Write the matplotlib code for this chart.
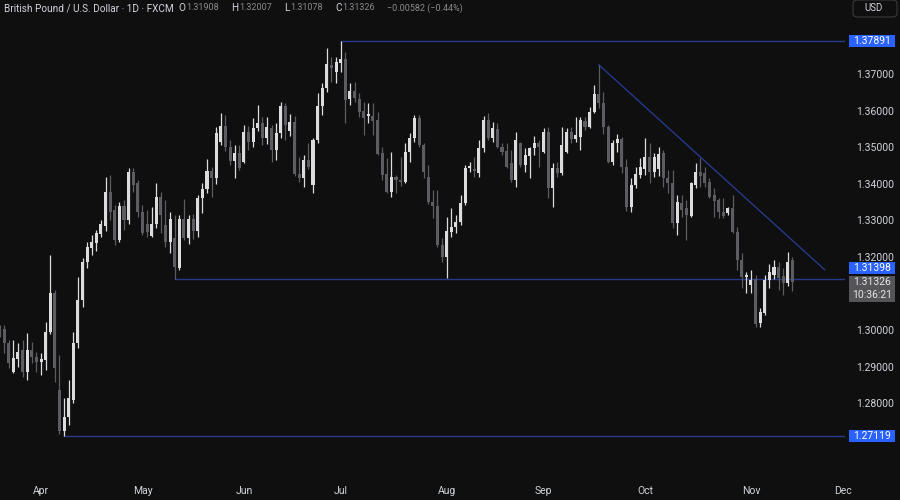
import matplotlib

matplotlib.use("Agg")
import matplotlib.pyplot as plt
from matplotlib.patches import FancyBboxPatch, Rectangle
import pandas as pd

START = "2025-03-19"
END = "2025-11-14"

# one entry per trading day, rows grouped by month
OPENS = [
    1.3002, 1.3003, 1.2965, 1.2886, 1.2921, 1.2946, 1.2886, 1.2946, 1.2927,
    1.2913, 1.2918, 1.2995, 1.3101, 1.2836, 1.2725, 1.2763, 1.2809, 1.2965, 1.3082, 1.3186,
    1.3225, 1.3238, 1.3263, 1.3285, 1.3377, 1.3328, 1.3246, 1.3339, 1.3301, 1.3432, 1.3402,
    1.3323, 1.3290, 1.3257, 1.3290, 1.3364, 1.3287, 1.3241, 1.3252, 1.3170, 1.3304, 1.3252,
    1.3304, 1.3270, 1.3360, 1.3385, 1.3435, 1.3416, 1.3514, 1.3558, 1.3501, 1.3462, 1.3484,
    1.3460, 1.3541, 1.3514, 1.3552, 1.3566, 1.3525, 1.3552, 1.3492, 1.3539, 1.3612, 1.3545,
    1.3570, 1.3427, 1.3416, 1.3465, 1.3397, 1.3520, 1.3613, 1.3662, 1.3725, 1.3705,
    1.3730, 1.3741, 1.3632, 1.3654, 1.3632, 1.3599, 1.3585, 1.3585, 1.3574, 1.3484, 1.3427,
    1.3378, 1.3419, 1.3411, 1.3405, 1.3487, 1.3525, 1.3580, 1.3506, 1.3419, 1.3350, 1.3339,
    1.3233,
    1.3200, 1.3268, 1.3282, 1.3296, 1.3347, 1.3443, 1.3440, 1.3430, 1.3498, 1.3574, 1.3525,
    1.3550, 1.3501, 1.3490, 1.3457, 1.3410, 1.3511, 1.3451, 1.3476, 1.3498, 1.3511,
    1.3487, 1.3541, 1.3389, 1.3443, 1.3430, 1.3487, 1.3541, 1.3522, 1.3527, 1.3571, 1.3555,
    1.3596, 1.3645, 1.3621, 1.3555, 1.3459, 1.3511, 1.3522, 1.3446, 1.3337, 1.3397, 1.3424,
    1.3440, 1.3473, 1.3432, 1.3440, 1.3484, 1.3416, 1.3402, 1.3293, 1.3347, 1.3334, 1.3312,
    1.3397, 1.3432, 1.3429, 1.3405, 1.3369, 1.3356, 1.3323, 1.3320, 1.3334, 1.3268, 1.3192,
    1.3145,
    1.3123, 1.3139, 1.3020, 1.3047, 1.3137, 1.3151, 1.3173, 1.3148, 1.3129, 1.31908,
]
HIGHS = [
    1.3014, 1.3014, 1.2973, 1.2973, 1.2965, 1.2973, 1.2992, 1.2968, 1.2940,
    1.2938, 1.3023, 1.3205, 1.3110, 1.2932, 1.2815, 1.2864, 1.2995, 1.3145, 1.3197, 1.3240,
    1.3260, 1.3274, 1.3300, 1.3419, 1.3424, 1.3342, 1.3350, 1.3356, 1.3443, 1.3443, 1.3410,
    1.3342, 1.3328, 1.3337, 1.3402, 1.3378, 1.3356, 1.3323, 1.3315, 1.3315, 1.3358, 1.3315,
    1.3318, 1.3370, 1.3402, 1.3468, 1.3446, 1.3555, 1.3593, 1.3588, 1.3520, 1.3506, 1.3506,
    1.3561, 1.3558, 1.3580, 1.3615, 1.3582, 1.3582, 1.3561, 1.3566, 1.3623, 1.3621, 1.3590,
    1.3585, 1.3473, 1.3479, 1.3511, 1.3525, 1.3648, 1.3675, 1.3771, 1.3746, 1.3746,
    1.37891, 1.3760, 1.3675, 1.3678, 1.3648, 1.3623, 1.3621, 1.3621, 1.3596, 1.3500, 1.3470,
    1.3487, 1.3424, 1.3473, 1.3511, 1.3539, 1.3588, 1.3588, 1.3511, 1.3451, 1.3383, 1.3383,
    1.3252,
    1.3309, 1.3334, 1.3315, 1.3369, 1.3451, 1.3460, 1.3473, 1.3520, 1.3585, 1.3593, 1.3569,
    1.3566, 1.3511, 1.3511, 1.3492, 1.3541, 1.3514, 1.3498, 1.3501, 1.3531, 1.3520,
    1.3552, 1.3555, 1.3457, 1.3460, 1.3555, 1.3552, 1.3555, 1.3583, 1.3583, 1.3583, 1.3610,
    1.3670, 1.3725, 1.3651, 1.3561, 1.3520, 1.3536, 1.3528, 1.3468, 1.3416, 1.3446, 1.3470,
    1.3525, 1.3511, 1.3484, 1.3500, 1.3492, 1.3438, 1.3438, 1.3369, 1.3369, 1.3356, 1.3405,
    1.3457, 1.3470, 1.3446, 1.3416, 1.3388, 1.3361, 1.3361, 1.3337, 1.3369, 1.3282, 1.3211,
    1.3159,
    1.3164, 1.3151, 1.3060, 1.3150, 1.3181, 1.3192, 1.3185, 1.3170, 1.3213, 1.32007,
]
LOWS = [
    1.2980, 1.2938, 1.2897, 1.2883, 1.2900, 1.2872, 1.2864, 1.2910, 1.2886,
    1.2877, 1.2890, 1.2990, 1.2858, 1.2715, 1.27119, 1.2741, 1.2801, 1.2950, 1.3063, 1.3170,
    1.3205, 1.3215, 1.3255, 1.3270, 1.3300, 1.3233, 1.3241, 1.3274, 1.3290, 1.3378, 1.3309,
    1.3260, 1.3255, 1.3255, 1.3280, 1.3266, 1.3227, 1.3211, 1.31398, 1.3164, 1.3246, 1.3236,
    1.3250, 1.3255, 1.3320, 1.3375, 1.3365, 1.3400, 1.3505, 1.3490, 1.3451, 1.3416, 1.3438,
    1.3457, 1.3492, 1.3500, 1.3545, 1.3506, 1.3509, 1.3460, 1.3465, 1.3525, 1.3520, 1.3530,
    1.3420, 1.3405, 1.3391, 1.3440, 1.3375, 1.3511, 1.3588, 1.3650, 1.3678, 1.3675,
    1.3705, 1.3566, 1.3615, 1.3623, 1.3583, 1.3533, 1.3566, 1.3533, 1.3479, 1.3410, 1.3375,
    1.3364, 1.3375, 1.3395, 1.3402, 1.3460, 1.3514, 1.3501, 1.3416, 1.3345, 1.3306, 1.3227,
    1.3186,
    1.3142, 1.3255, 1.3266, 1.3287, 1.3342, 1.3432, 1.3419, 1.3419, 1.3487, 1.3520, 1.3514,
    1.3498, 1.3479, 1.3443, 1.3405, 1.3391, 1.3446, 1.3432, 1.3416, 1.3479, 1.3446,
    1.3484, 1.3361, 1.3337, 1.3419, 1.3424, 1.3484, 1.3511, 1.3514, 1.3492, 1.3547, 1.3552,
    1.3593, 1.3607, 1.3536, 1.3457, 1.3451, 1.3487, 1.3429, 1.3325, 1.3323, 1.3388, 1.3416,
    1.3424, 1.3402, 1.3419, 1.3420, 1.3391, 1.3375, 1.3279, 1.3260, 1.3309, 1.3246, 1.3309,
    1.3388, 1.3391, 1.3391, 1.3361, 1.3309, 1.3306, 1.3306, 1.3315, 1.3265, 1.3164, 1.3115,
    1.3101,
    1.3101, 1.3009, 1.3009, 1.3040, 1.3115, 1.3140, 1.3110, 1.3095, 1.3120, 1.31078,
]
CLOSES = [
    1.2996, 1.2965, 1.2910, 1.2923, 1.2940, 1.2886, 1.2946, 1.2927, 1.2913,
    1.2920, 1.2995, 1.3101, 1.2897, 1.2725, 1.2763, 1.2815, 1.2965, 1.3082, 1.3186, 1.3227,
    1.3241, 1.3266, 1.3290, 1.3377, 1.3323, 1.3246, 1.3339, 1.3301, 1.3432, 1.3397, 1.3323,
    1.3266, 1.3268, 1.3290, 1.3364, 1.3315, 1.3241, 1.3304, 1.3173, 1.3304, 1.3252, 1.3304,
    1.3270, 1.3360, 1.3385, 1.3435, 1.3416, 1.3539, 1.3558, 1.3501, 1.3462, 1.3484, 1.3443,
    1.3541, 1.3514, 1.3552, 1.3566, 1.3525, 1.3555, 1.3492, 1.3539, 1.3612, 1.3561, 1.3570,
    1.3427, 1.3416, 1.3465, 1.3446, 1.3520, 1.3613, 1.3662, 1.3727, 1.3716, 1.3733,
    1.3741, 1.3629, 1.3654, 1.3635, 1.3596, 1.3580, 1.3590, 1.3572, 1.3481, 1.3424, 1.3378,
    1.3419, 1.3411, 1.3405, 1.3487, 1.3525, 1.3580, 1.3506, 1.3432, 1.3350, 1.3339, 1.3233,
    1.3200,
    1.3271, 1.3282, 1.3296, 1.3347, 1.3443, 1.3448, 1.3435, 1.3498, 1.3574, 1.3525, 1.3552,
    1.3501, 1.3487, 1.3446, 1.3410, 1.3520, 1.3451, 1.3479, 1.3498, 1.3511, 1.3501,
    1.3541, 1.3389, 1.3443, 1.3430, 1.3506, 1.3541, 1.3522, 1.3532, 1.3574, 1.3555, 1.3596,
    1.3645, 1.3621, 1.3555, 1.3459, 1.3511, 1.3522, 1.3446, 1.3337, 1.3397, 1.3427, 1.3446,
    1.3473, 1.3432, 1.3473, 1.3480, 1.3416, 1.3402, 1.3293, 1.3350, 1.3328, 1.3315, 1.3402,
    1.3432, 1.3421, 1.3402, 1.3364, 1.3353, 1.3323, 1.3312, 1.3334, 1.3268, 1.3192, 1.3145,
    1.3150,
    1.3137, 1.3016, 1.3050, 1.3137, 1.3159, 1.3173, 1.3142, 1.3129, 1.3186, 1.31326,
]

# horizontal levels: (start date, price)
LEVELS = [("2025-07-01", 1.37891), ("2025-05-12", 1.31398), ("2025-04-08", 1.27119)]
# falling trendline through the Sep 17 high
TREND = [("2025-09-17", 1.3725), ("2025-11-25", 1.3165)]

PRICE_TICKS = [1.28, 1.29, 1.30, 1.32, 1.33, 1.34, 1.35, 1.36, 1.37]
MONTHS = ["Apr", "May", "Jun", "Jul", "Aug", "Sep", "Oct", "Nov", "Dec"]
MONTH_STARTS = ["2025-04-01", "2025-05-01", "2025-06-02", "2025-07-01", "2025-08-01",
                "2025-09-01", "2025-10-01", "2025-11-03", "2025-12-01"]

TITLE = "British Pound / U.S. Dollar · 1D · FXCM"
OHLC_TAGS = ["O", "H", "L", "C"]
LAST_CHANGE = "−0.00582 (−0.44%)"
LAST_TIME = "10:36:21"

BG = "#0f0f0f"
UP = "#dcdcdc"
DOWN = "#5c5d63"
LINE = "#26398a"
TEXT = "#d1d4dc"
DIM = "#8a8a8a"
LAST_BOX = "#555559"

days = pd.bdate_range(START, "2025-12-31")
n = len(OPENS)
assert n == len(HIGHS) == len(LOWS) == len(CLOSES)
assert days[n - 1] == pd.Timestamp(END)
index_of = {d: i for i, d in enumerate(days)}


def idx(day: str) -> int:
    return index_of[pd.Timestamp(day)]


fig = plt.figure(figsize=(9, 5), dpi=100, facecolor=BG)
ax = fig.add_axes([0, 25 / 500, 845 / 900, 475 / 500])
ax.set_facecolor(BG)

xs = list(range(n))
colors = [UP if c >= o else DOWN for o, c in zip(OPENS, CLOSES)]
ax.vlines(xs, LOWS, HIGHS, colors=colors, linewidth=0.9, zorder=2)
bottoms = [min(o, c) for o, c in zip(OPENS, CLOSES)]
heights = [max(abs(c - o), 0.00012) for o, c in zip(OPENS, CLOSES)]
ax.bar(xs, heights, bottom=bottoms, width=0.66, color=colors, linewidth=0, zorder=3)

x_right = 183.4
for day, price in LEVELS:
    ax.plot([idx(day), x_right], [price, price], color=LINE, linewidth=1.0, zorder=1)
(t0, p0), (t1, p1) = TREND
ax.plot([idx(t0), idx(t1)], [p0, p1], color=LINE, linewidth=1.0, zorder=1)

ax.set_xlim(0.1, x_right)
ax.set_ylim(1.26041, 1.39022)

for side in ["top", "right", "bottom", "left"]:
    ax.spines[side].set_visible(False)

ax.set_xticks([idx(d) for d in MONTH_STARTS], MONTHS)
ax.tick_params(axis="x", length=0, pad=8, labelsize=7.5, colors=TEXT)
ax.yaxis.tick_right()
ax.set_yticks(PRICE_TICKS, [f"{p:.5f}" for p in PRICE_TICKS])
ax.tick_params(axis="y", length=0, pad=8, labelsize=7.5, colors=TEXT)
for lbl in ax.get_xticklabels() + ax.get_yticklabels():
    lbl.set_fontfamily("Roboto")


def to_fig_y(price: float) -> float:
    # pixel height from the bottom of the figure
    return ax.transData.transform((0, price))[1]


def price_box(y_px: float, lines: list[str], face: str, height: float = 12):
    x0, x1 = 849, 895
    fig.add_artist(Rectangle((x0 / 900, (y_px - height / 2) / 500), (x1 - x0) / 900,
                             height / 500, transform=fig.transFigure,
                             facecolor=face, edgecolor="none", zorder=5))
    step = height / len(lines)
    for k, line in enumerate(lines):
        cy = y_px + height / 2 - step * (k + 0.5)
        fig.text((x0 + x1) / 2 / 900, cy / 500, line, ha="center", va="center",
                 color="white" if face != LAST_BOX else "#e6e6e6", fontsize=7.5,
                 family="Roboto", zorder=6)


price_box(to_fig_y(LEVELS[0][1]), [f"{LEVELS[0][1]:.5f}"], "#2962ff")
price_box(to_fig_y(LEVELS[1][1]) + 11, [f"{LEVELS[1][1]:.5f}"], "#2962ff")
price_box(to_fig_y(LEVELS[2][1]), [f"{LEVELS[2][1]:.5f}"], "#2962ff")
price_box(to_fig_y(CLOSES[-1]) - 7, [f"{CLOSES[-1]:.5f}", LAST_TIME], LAST_BOX, height=26)

# currency badge in the top right corner
fig.add_artist(FancyBboxPatch((853 / 900, 483 / 500), 44 / 900, 17 / 500,
                              boxstyle="round,pad=0,rounding_size=0.006",
                              transform=fig.transFigure, facecolor=BG,
                              edgecolor="#3a3a3a", linewidth=0.8, zorder=5))
fig.text(874 / 900, 492 / 500, "USD", ha="center", va="center", color=TEXT,
         fontsize=7, family="Roboto", zorder=6)

# legend line at the top left, laid out piece by piece
renderer = fig.canvas.get_renderer()
header_y = 1 - 8 / 500
pieces = [(TITLE, TEXT, 7.2, 5)]
values = [OPENS[-1], HIGHS[-1], LOWS[-1], CLOSES[-1]]
for tag, value in zip(OHLC_TAGS, values):
    pieces.append((tag, TEXT, 7.2, 1))
    pieces.append((f"{value:.5f}", DIM, 6.5, 12))
pieces.append((LAST_CHANGE, DIM, 6.5, 0))
cursor = 4
for text, color, size, gap in pieces:
    t = fig.text(cursor / 900, header_y, text, ha="left", va="center", color=color,
                 fontsize=size, family="Roboto")
    cursor += t.get_window_extent(renderer).width + gap

fig.savefig("out.png", dpi=100, facecolor=BG)
